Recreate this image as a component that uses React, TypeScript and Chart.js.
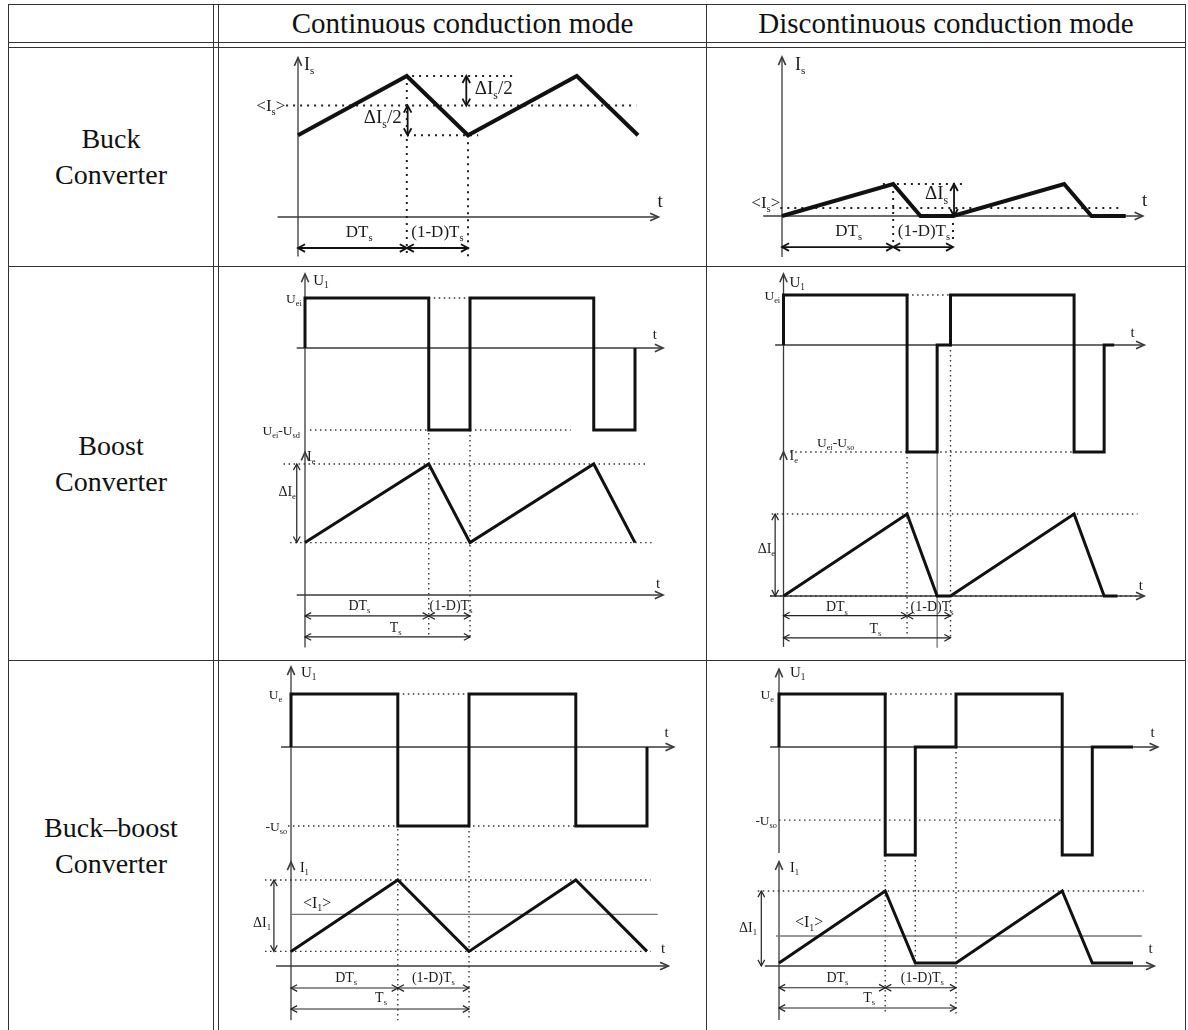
import React, { useEffect, useRef } from "react";
import { Chart, registerables } from "chart.js";
Chart.register(...registerables);

// ---------------- data (time in units of Ts, amplitudes in relative units) ----------------
const buckCcmT = [0, 0.64, 1, 1.64, 2];
const buckCcmI = [0.58, 1, 0.58, 1, 0.58];

const buckDcmT = [0, 0.65, 0.81, 1, 1.65, 1.81, 2.01];
const buckDcmI = [0, 1, 0, 0, 1, 0, 0];

const boostCcmUT = [0, 0, 0.75, 0.75, 1, 1, 1.75, 1.75, 2, 2];
const boostCcmU = [0, 1, 1, -1.64, -1.64, 1, 1, -1.64, -1.64, 0];
const boostCcmIT = [0, 0.75, 1, 1.75, 2];
const boostCcmI = [0.4, 1, 0.4, 1, 0.4];

const boostDcmUT = [0, 0, 0.74, 0.74, 0.92, 0.92, 1, 1, 1.74, 1.74, 1.92, 1.92, 1.98];
const boostDcmU = [0, 1, 1, -2.14, -2.14, 0, 0, 1, 1, -2.14, -2.14, 0, 0];
const boostDcmIT = [0, 0.74, 0.92, 1, 1.74, 1.92, 2];
const boostDcmI = [0, 1, 0, 0, 1, 0, 0];

const bbCcmUT = [0, 0, 0.6, 0.6, 1, 1, 1.6, 1.6, 2, 2];
const bbCcmU = [0, 1, 1, -1.49, -1.49, 1, 1, -1.49, -1.49, 0];
const bbCcmIT = [0, 0.6, 1, 1.6, 2];
const bbCcmI = [0.17, 1, 0.17, 1, 0.17];

const bbDcmUT = [0, 0, 0.6, 0.6, 0.77, 0.77, 1, 1, 1.6, 1.6, 1.77, 1.77, 2];
const bbDcmU = [0, 1, 1, -2.04, -2.04, 0, 0, 1, 1, -2.04, -2.04, 0, 0];
const bbDcmIT = [0, 0.6, 0.77, 1, 1.6, 1.77, 2];
const bbDcmI = [0.04, 1, 0.04, 0.04, 1, 0.04, 0.04];

// table texts
const columnTitles = ["Continuous conduction mode", "Discontinuous conduction mode"];
const rowTitles = [["Buck", "Converter"], ["Boost", "Converter"], ["Buck\u2013boost", "Converter"]];

// guide segments: [t1, v1, axis1, t2, v2, axis2, style]
type Seg = [number, number, string, number, number, string, string];
// labels: [t, v, axis, text, size, align]
type Lab = [number, number, string, string, number, string];

const buckCcmSegs: Seg[] = [
  [-0.12, 0, "y", 2.12, 0, "y", "ax"],
  [0, -0.28, "y", 0, 1.13, "y", "ax"],
  [-0.07, 0.79, "y", 1.99, 0.79, "y", "dot"],
  [0.63, 1, "y", 1.26, 1, "y", "dot"],
  [0.6, 0.58, "y", 1.06, 0.58, "y", "dot"],
  [0.64, 1, "y", 0.64, -0.28, "y", "dot"],
  [1, 0.58, "y", 1, -0.28, "y", "dot"],
  [0.99, 1, "y", 0.99, 0.79, "y", "dimB"],
  [0.645, 0.79, "y", 0.645, 0.58, "y", "dimB"],
  [0, -0.22, "y", 0.64, -0.22, "y", "dimB"],
  [0.64, -0.22, "y", 1, -0.22, "y", "dimB"],
];
const buckCcmLabels: Lab[] = [
  [0.035, 1.085, "y", "I_{s}", 18, "left"],
  [2.13, 0.12, "y", "t", 19, "center"],
  [-0.075, 0.79, "y", "<I_{s}>", 17, "right"],
  [1.04, 0.915, "y", "\u0394I_{s}/2", 19, "left"],
  [0.61, 0.71, "y", "\u0394I_{s}/2", 19, "right"],
  [0.36, -0.1, "y", "DT_{s}", 17, "center"],
  [0.82, -0.1, "y", "(1-D)T_{s}", 17, "center"],
];

const buckDcmSegs: Seg[] = [
  [-0.11, 0, "y", 2.11, 0, "y", "ax"],
  [0, -1.28, "y", 0, 4.97, "y", "ax"],
  [-0.01, 0.25, "y", 1.99, 0.25, "y", "dot"],
  [0.59, 1, "y", 1.06, 1, "y", "dot"],
  [0.65, 1, "y", 0.65, -0.81, "y", "dot"],
  [1, 0, "y", 1, -0.81, "y", "dot"],
  [1.006, 1, "y", 1.006, 0, "y", "dimB"],
  [0, -0.97, "y", 0.65, -0.97, "y", "dimB"],
  [0.65, -0.97, "y", 1, -0.97, "y", "dimB"],
];
const buckDcmLabels: Lab[] = [
  [0.076, 4.75, "y", "I_{s}", 18, "left"],
  [2.12, 0.5, "y", "t", 19, "center"],
  [-0.01, 0.42, "y", "<I_{s}>", 17, "right"],
  [0.836, 0.72, "y", "\u0394I_{s}", 19, "left"],
  [0.39, -0.44, "y", "DT_{s}", 17, "center"],
  [0.83, -0.44, "y", "(1-D)T_{s}", 17, "center"],
];

const boostCcmSegs: Seg[] = [
  [-0.05, 0, "y", 2.17, 0, "y", "ax"],
  [0, -2.08, "y", 0, 1.48, "y", "ax"],
  [-0.05, 0, "y2", 2.17, 0, "y2", "ax"],
  [0, -0.4, "y2", 0, 1.09, "y2", "ax"],
  [0.75, 1, "y", 1.61, 1, "y", "dot2"],
  [0.03, -1.64, "y", 1.61, -1.64, "y", "dot2"],
  [0.75, 1, "y", 0.75, -0.32, "y2", "dot2"],
  [1, -1.64, "y", 1, -0.32, "y2", "dot2"],
  [-0.13, 1, "y2", 2.07, 1, "y2", "dot2"],
  [-0.09, 0.4, "y2", 2.1, 0.4, "y2", "dot2"],
  [-0.05, 1, "y2", -0.05, 0.4, "y2", "dim"],
  [0, -0.16, "y2", 0.75, -0.16, "y2", "dim"],
  [0.75, -0.16, "y2", 1, -0.16, "y2", "dim"],
  [0, -0.32, "y2", 1, -0.32, "y2", "dim"],
];
const boostCcmLabels: Lab[] = [
  [0.05, 1.36, "y", "U_{1}", 15, "left"],
  [-0.02, 1, "y", "U_{ei}", 13.5, "right"],
  [-0.03, -1.64, "y", "U_{ei}-U_{sd}", 13.5, "right"],
  [2.12, 0.28, "y", "t", 15, "center"],
  [0.012, 1.06, "y2", "I_{e}", 14, "left"],
  [-0.055, 0.79, "y2", "\u0394I_{e}", 14, "right"],
  [2.14, 0.09, "y2", "t", 15, "center"],
  [0.33, -0.076, "y2", "DT_{s}", 14, "center"],
  [0.885, -0.076, "y2", "(1-D)T_{s}", 14, "center"],
  [0.55, -0.245, "y2", "T_{s}", 14, "center"],
];

const boostDcmSegs: Seg[] = [
  [-0.05, 0, "y", 2.16, 0, "y", "ax"],
  [0, -2.14, "y", 0, 1.42, "y", "ax"],
  [-0.08, 0, "y2", 2.16, 0, "y2", "ax"],
  [0, -0.62, "y2", 0, 1.76, "y2", "ax"],
  [0.92, 0, "y", 0.92, -0.63, "y2", "thin"],
  [0.74, 1, "y", 1, 1, "y", "dot2"],
  [0.04, -2.14, "y", 1.74, -2.14, "y", "dot2"],
  [-0.08, 0, "y2", 2.14, 0, "y2", "dot2"],
  [-0.07, 1, "y2", 2.12, 1, "y2", "dot2"],
  [0.74, -2.14, "y", 0.74, -0.5, "y2", "dot2"],
  [1, 0, "y", 1, -0.5, "y2", "dot2"],
  [-0.05, 1, "y2", -0.05, 0, "y2", "dim"],
  [0, -0.24, "y2", 0.74, -0.24, "y2", "dim"],
  [0.74, -0.24, "y2", 1, -0.24, "y2", "dim"],
  [0, -0.51, "y2", 1, -0.51, "y2", "dim"],
];
const boostDcmLabels: Lab[] = [
  [0.036, 1.26, "y", "U_{1}", 15, "left"],
  [-0.02, 1, "y", "U_{ei}", 13.5, "right"],
  [2.09, 0.26, "y", "t", 15, "center"],
  [0.2, -1.94, "y", "U_{ei}-U_{so}", 13.5, "left"],
  [0.036, 1.72, "y2", "I_{e}", 14, "left"],
  [-0.05, 0.585, "y2", "\u0394I_{e}", 14, "right"],
  [2.14, 0.13, "y2", "t", 15, "center"],
  [0.32, -0.13, "y2", "DT_{s}", 14, "center"],
  [0.89, -0.13, "y2", "(1-D)T_{s}", 14, "center"],
  [0.55, -0.39, "y2", "T_{s}", 14, "center"],
];

const bbCcmSegs: Seg[] = [
  [-0.056, 0, "y", 2.15, 0, "y", "ax"],
  [0, -2.2, "y", 0, 1.51, "y", "ax"],
  [-0.084, 0, "y2", 2.12, 0, "y2", "ax"],
  [0, -0.63, "y2", 0, 1.21, "y2", "ax"],
  [0.6, 1, "y", 1, 1, "y", "dot2"],
  [-0.017, -1.49, "y", 1.6, -1.49, "y", "dot2"],
  [0.6, 1, "y", 0.6, -0.63, "y2", "dot2"],
  [1, -1.49, "y", 1, -0.63, "y2", "dot2"],
  [-0.146, 1, "y2", 2.02, 1, "y2", "dot2"],
  [-0.146, 0.17, "y2", 2.02, 0.17, "y2", "dot2"],
  [0, 0.6, "y2", 2.06, 0.6, "y2", "avg"],
  [-0.096, 1, "y2", -0.096, 0.17, "y2", "dim"],
  [0, -0.256, "y2", 0.6, -0.256, "y2", "dim"],
  [0.6, -0.256, "y2", 1, -0.256, "y2", "dim"],
  [0, -0.5, "y2", 1, -0.5, "y2", "dim"],
];
const bbCcmLabels: Lab[] = [
  [0.056, 1.415, "y", "U_{1}", 15, "left"],
  [-0.05, 1, "y", "U_{e}", 13.5, "right"],
  [-0.022, -1.49, "y", "-U_{so}", 13.5, "right"],
  [2.11, 0.28, "y", "t", 15, "center"],
  [0.05, 1.15, "y2", "I_{1}", 14, "left"],
  [0.067, 0.74, "y2", "<I_{1}>", 16, "left"],
  [-0.112, 0.51, "y2", "\u0394I_{1}", 14, "right"],
  [2.09, 0.21, "y2", "t", 15, "center"],
  [0.31, -0.128, "y2", "DT_{s}", 14, "center"],
  [0.8, -0.128, "y2", "(1-D)T_{s}", 14, "center"],
  [0.506, -0.36, "y2", "T_{s}", 14, "center"],
];

const bbDcmSegs: Seg[] = [
  [-0.05, 0, "y", 2.14, 0, "y", "ax"],
  [0, -2.0, "y", 0, 1.47, "y", "ax"],
  [-0.08, 0, "y2", 2.12, 0, "y2", "ax"],
  [0, -0.72, "y2", 0, 1.39, "y2", "ax"],
  [0.6, 1, "y", 1, 1, "y", "dot2"],
  [0, -1.38, "y", 1.6, -1.38, "y", "dot2"],
  [1, 0, "y", 1, -0.68, "y2", "dot2"],
  [0.6, -2.04, "y", 0.6, -0.61, "y2", "dot2"],
  [0.77, -2.04, "y", 0.77, 0, "y2", "dot2"],
  [-0.12, 1, "y2", 2.06, 1, "y2", "dot2"],
  [-0.017, 0.4, "y2", 2.05, 0.4, "y2", "avg"],
  [-0.1, 1, "y2", -0.1, 0, "y2", "dim"],
  [0, -0.29, "y2", 0.6, -0.29, "y2", "dim"],
  [0.6, -0.29, "y2", 1, -0.29, "y2", "dim"],
  [0, -0.56, "y2", 1, -0.56, "y2", "dim"],
];
const bbDcmLabels: Lab[] = [
  [0.062, 1.415, "y", "U_{1}", 15, "left"],
  [-0.028, 1, "y", "U_{e}", 13.5, "right"],
  [-0.011, -1.38, "y", "-U_{so}", 13.5, "right"],
  [2.11, 0.28, "y", "t", 15, "center"],
  [0.062, 1.32, "y2", "I_{1}", 14, "left"],
  [0.09, 0.59, "y2", "<I_{1}>", 16, "left"],
  [-0.124, 0.52, "y2", "\u0394I_{1}", 14, "right"],
  [2.1, 0.24, "y2", "t", 15, "center"],
  [0.33, -0.147, "y2", "DT_{s}", 14, "center"],
  [0.81, -0.147, "y2", "(1-D)T_{s}", 14, "center"],
  [0.51, -0.41, "y2", "T_{s}", 14, "center"],
];

// ---------------- layout (page pixels) ----------------
type Frame = { zero: number; px: number };
type Panel = {
  rect: { left: number; top: number; width: number; height: number };
  x: Frame;
  ys: Record<string, Frame>;
  series: { axis: string; t: number[]; v: number[]; w: number }[];
  segs: Seg[];
  labels: Lab[];
};

const panels: Panel[] = [
  {
    rect: { left: 219, top: 48, width: 486, height: 217 },
    x: { zero: 298, px: 170 },
    ys: { y: { zero: 217, px: 141 } },
    series: [{ axis: "y", t: buckCcmT, v: buckCcmI, w: 4 }],
    segs: buckCcmSegs,
    labels: buckCcmLabels,
  },
  {
    rect: { left: 707, top: 48, width: 478, height: 217 },
    x: { zero: 782, px: 171 },
    ys: { y: { zero: 216, px: 32 } },
    series: [{ axis: "y", t: buckDcmT, v: buckDcmI, w: 4 }],
    segs: buckDcmSegs,
    labels: buckDcmLabels,
  },
  {
    rect: { left: 219, top: 267, width: 486, height: 392 },
    x: { zero: 305, px: 165 },
    ys: { y: { zero: 348, px: 50 }, y2: { zero: 595, px: 131 } },
    series: [
      { axis: "y", t: boostCcmUT, v: boostCcmU, w: 3 },
      { axis: "y2", t: boostCcmIT, v: boostCcmI, w: 3 },
    ],
    segs: boostCcmSegs,
    labels: boostCcmLabels,
  },
  {
    rect: { left: 707, top: 267, width: 478, height: 392 },
    x: { zero: 783.5, px: 167 },
    ys: { y: { zero: 345, px: 50 }, y2: { zero: 596, px: 82 } },
    series: [
      { axis: "y", t: boostDcmUT, v: boostDcmU, w: 3 },
      { axis: "y2", t: boostDcmIT, v: boostDcmI, w: 3 },
    ],
    segs: boostDcmSegs,
    labels: boostDcmLabels,
  },
  {
    rect: { left: 219, top: 661, width: 486, height: 369 },
    x: { zero: 291, px: 178 },
    ys: { y: { zero: 747, px: 53 }, y2: { zero: 966, px: 86 } },
    series: [
      { axis: "y", t: bbCcmUT, v: bbCcmU, w: 3 },
      { axis: "y2", t: bbCcmIT, v: bbCcmI, w: 3 },
    ],
    segs: bbCcmSegs,
    labels: bbCcmLabels,
  },
  {
    rect: { left: 707, top: 661, width: 478, height: 369 },
    x: { zero: 779, px: 177 },
    ys: { y: { zero: 747, px: 53 }, y2: { zero: 966, px: 75 } },
    series: [
      { axis: "y", t: bbDcmUT, v: bbDcmU, w: 3 },
      { axis: "y2", t: bbDcmIT, v: bbDcmI, w: 3 },
    ],
    segs: bbDcmSegs,
    labels: bbDcmLabels,
  },
];

const FONT = '"Liberation Serif", "Times New Roman", serif';

function drawRich(ctx: CanvasRenderingContext2D, text: string, x: number, y: number, size: number, align: string, color: string) {
  const parts: { s: string; sub: boolean }[] = [];
  const re = /_\{([^}]*)\}/g;
  let last = 0;
  let m: RegExpExecArray | null;
  while ((m = re.exec(text))) {
    if (m.index > last) parts.push({ s: text.slice(last, m.index), sub: false });
    parts.push({ s: m[1], sub: true });
    last = re.lastIndex;
  }
  if (last < text.length) parts.push({ s: text.slice(last), sub: false });
  const subSize = size * 0.62;
  const fontFor = (sub: boolean) => `${sub ? subSize : size}px ${FONT}`;
  let total = 0;
  const widths = parts.map((p) => {
    ctx.font = fontFor(p.sub);
    const w = ctx.measureText(p.s).width;
    total += w;
    return w;
  });
  let cx = align === "left" ? x : align === "right" ? x - total : x - total / 2;
  const base = y + size * 0.34;
  ctx.fillStyle = color;
  ctx.textAlign = "left";
  ctx.textBaseline = "alphabetic";
  parts.forEach((p, i) => {
    ctx.font = fontFor(p.sub);
    ctx.fillText(p.s, cx, p.sub ? base + size * 0.22 : base);
    cx += widths[i];
  });
}

function chevron(ctx: CanvasRenderingContext2D, x1: number, y1: number, x2: number, y2: number, len: number, spread: number) {
  const a = Math.atan2(y2 - y1, x2 - x1);
  ctx.beginPath();
  ctx.moveTo(x2 - len * Math.cos(a - spread), y2 - len * Math.sin(a - spread));
  ctx.lineTo(x2, y2);
  ctx.lineTo(x2 - len * Math.cos(a + spread), y2 - len * Math.sin(a + spread));
  ctx.stroke();
}

const guidePlugin = {
  id: "guides",
  beforeDatasetsDraw(chart: any) {
    const segs: Seg[] = chart.options.plugins.guides.segs;
    const ctx: CanvasRenderingContext2D = chart.ctx;
    const sx = chart.scales.x;
    ctx.save();
    segs.forEach(([t1, v1, a1, t2, v2, a2, style]) => {
      const x1 = sx.getPixelForValue(t1);
      const y1 = chart.scales[a1].getPixelForValue(v1);
      const x2 = sx.getPixelForValue(t2);
      const y2 = chart.scales[a2].getPixelForValue(v2);
      ctx.setLineDash([]);
      ctx.lineCap = "butt";
      if (style === "ax") {
        ctx.strokeStyle = "#3a3a3a";
        ctx.lineWidth = 1.3;
      } else if (style === "dot") {
        ctx.strokeStyle = "#222";
        ctx.lineWidth = 2;
        ctx.setLineDash([2, 5]);
      } else if (style === "dot2") {
        ctx.strokeStyle = "#333";
        ctx.lineWidth = 1.4;
        ctx.setLineDash([1.5, 3.5]);
      } else if (style === "dimB") {
        ctx.strokeStyle = "#111";
        ctx.lineWidth = 1.8;
      } else if (style === "dim") {
        ctx.strokeStyle = "#222";
        ctx.lineWidth = 1.2;
      } else if (style === "avg") {
        ctx.strokeStyle = "#777";
        ctx.lineWidth = 1.3;
      } else {
        ctx.strokeStyle = "#666";
        ctx.lineWidth = 1.2;
      }
      ctx.beginPath();
      ctx.moveTo(x1, y1);
      ctx.lineTo(x2, y2);
      ctx.stroke();
      ctx.setLineDash([]);
      if (style === "ax") {
        ctx.lineWidth = 1.6;
        chevron(ctx, x1, y1, x2, y2, 9, 0.42);
      } else if (style === "dimB" || style === "dim") {
        const len = style === "dimB" ? 8 : 7;
        chevron(ctx, x1, y1, x2, y2, len, 0.5);
        chevron(ctx, x2, y2, x1, y1, len, 0.5);
      }
    });
    ctx.restore();
  },
  afterDatasetsDraw(chart: any) {
    const labels: Lab[] = chart.options.plugins.guides.labels;
    const ctx: CanvasRenderingContext2D = chart.ctx;
    const sx = chart.scales.x;
    ctx.save();
    labels.forEach(([t, v, a, text, size, align]) => {
      drawRich(ctx, text, sx.getPixelForValue(t), chart.scales[a].getPixelForValue(v), size, align, "#1a1a1a");
    });
    ctx.restore();
  },
};

function PanelChart({ p }: { p: Panel }) {
  const ref = useRef<HTMLCanvasElement | null>(null);
  useEffect(() => {
    if (!ref.current) return;
    const { left, top, width, height } = p.rect;
    const scales: any = {
      x: {
        type: "linear",
        display: false,
        min: (left - p.x.zero) / p.x.px,
        max: (left + width - p.x.zero) / p.x.px,
      },
    };
    Object.entries(p.ys).forEach(([id, f]) => {
      scales[id] = {
        type: "linear",
        display: false,
        max: (f.zero - top) / f.px,
        min: (f.zero - (top + height)) / f.px,
      };
    });
    const chart = new Chart(ref.current, {
      type: "scatter",
      data: {
        datasets: p.series.map((s) => ({
          data: s.t.map((t, i) => ({ x: t, y: s.v[i] })),
          yAxisID: s.axis,
          showLine: true,
          borderColor: "#111",
          borderWidth: s.w,
          pointRadius: 0,
          pointHoverRadius: 0,
          fill: false,
          tension: 0,
          borderJoinStyle: "miter",
          borderCapStyle: "butt",
          clip: false,
        })),
      },
      options: {
        animation: false,
        responsive: false,
        events: [],
        layout: { padding: 0 },
        scales,
        plugins: {
          legend: { display: false },
          tooltip: { enabled: false },
          guides: { segs: p.segs, labels: p.labels },
        } as any,
      },
      plugins: [guidePlugin as any],
    });
    return () => chart.destroy();
  }, [p]);
  return (
    <canvas
      ref={ref}
      width={p.rect.width}
      height={p.rect.height}
      style={{ position: "absolute", left: p.rect.left, top: p.rect.top, width: p.rect.width, height: p.rect.height }}
    />
  );
}

const LINE = "#333";
const hLines = [4, 42, 47, 266, 660];
const vLines = [8, 213, 218, 706, 1185];

export default function App() {
  return (
    <div style={{ position: "absolute", left: 0, top: 0, width: 1188, height: 1030, overflow: "hidden", background: "#fff", fontFamily: FONT }}>
      {hLines.map((y) => (
        <div key={"h" + y} style={{ position: "absolute", left: 8, top: y, width: 1178, height: 1, background: LINE }} />
      ))}
      {vLines.map((x) => (
        <div key={"v" + x} style={{ position: "absolute", left: x, top: 4, width: 1, height: 1030, background: LINE }} />
      ))}
      {columnTitles.map((t, i) => (
        <div
          key={t}
          style={{
            position: "absolute",
            left: i === 0 ? 219 : 707,
            width: i === 0 ? 487 : 478,
            top: 5,
            height: 37,
            display: "flex",
            alignItems: "center",
            justifyContent: "center",
            fontSize: 29,
            lineHeight: 1,
            color: "#111",
          }}
        >
          {t}
        </div>
      ))}
      {rowTitles.map((r, i) => {
        const tops = [48, 267, 661];
        const heights = [218, 393, 369];
        return (
          <div
            key={i}
            style={{
              position: "absolute",
              left: 9,
              width: 204,
              top: tops[i],
              height: heights[i],
              display: "flex",
              flexDirection: "column",
              alignItems: "center",
              justifyContent: "center",
              fontSize: 28,
              lineHeight: "36px",
              color: "#111",
              textAlign: "center",
            }}
          >
            <div>{r[0]}</div>
            <div>{r[1]}</div>
          </div>
        );
      })}
      {panels.map((p, i) => (
        <PanelChart key={i} p={p} />
      ))}
    </div>
  );
}
